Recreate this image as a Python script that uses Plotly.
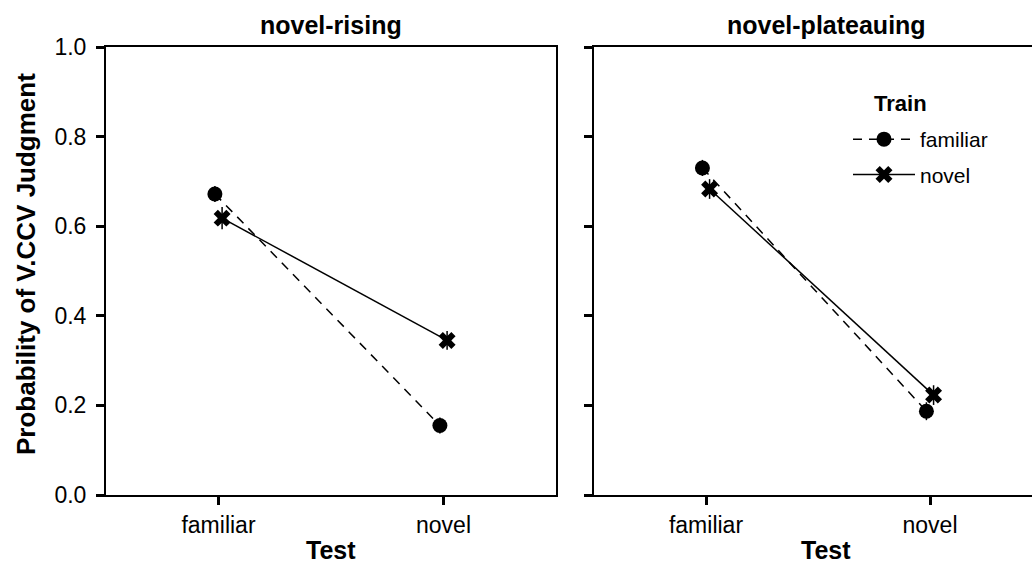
import plotly.graph_objects as go

# ---- data ----
panels = ["novel-rising", "novel-plateauing"]
test_levels = ["familiar", "novel"]
train_levels = ["familiar", "novel"]

rising_familiar = [0.672, 0.155]
rising_novel = [0.618, 0.345]
plateau_familiar = [0.730, 0.187]
plateau_novel = [0.683, 0.223]

rising_familiar_err = [0.018, 0.018]
rising_novel_err = [0.025, 0.021]
plateau_familiar_err = [0.018, 0.020]
plateau_novel_err = [0.022, 0.022]

y_ticks = [0.0, 0.2, 0.4, 0.6, 0.8, 1.0]

# ---- layout constants (pixels) ----
W, H = 1032, 570
ML, MR, MT, MB = 106, 0, 47, 75
PW = W - ML - MR
L1, R1 = 106, 556
L2, R2 = 594, 1032
unit = 224.0  # px per category

FONT = "Liberation Sans, Arial, sans-serif"
dodge = 0.016

styles = {
    "familiar": dict(dash="9px,7px", symbol="circle", size=15),
    "novel": dict(dash="solid", symbol="x", size=15),
}

series = [
    ("x", "y", rising_familiar, rising_familiar_err, "familiar", True),
    ("x", "y", rising_novel, rising_novel_err, "novel", True),
    ("x2", "y2", plateau_familiar, plateau_familiar_err, "familiar", False),
    ("x2", "y2", plateau_novel, plateau_novel_err, "novel", False),
]

fig = go.Figure()
for xa, ya, vals, errs, train, showleg in series:
    st = styles[train]
    off = -dodge if train == "familiar" else dodge
    xs = [i + off for i in range(len(test_levels))]
    fig.add_trace(go.Scatter(
        x=xs, y=vals, xaxis=xa, yaxis=ya,
        mode="lines+markers",
        name=train, legendgroup=train, showlegend=showleg,
        line=dict(color="black", width=1.5, dash=st["dash"]),
        marker=dict(symbol=st["symbol"], size=st["size"], color="black",
                    line=dict(width=0)),
        error_y=dict(type="data", array=errs, visible=True,
                     color="black", thickness=1.5, width=0),
    ))

def px2paper(px):
    return (px - ML) / PW

def py2paper(py):
    return (495 - py) / 448

axis_common = dict(showgrid=False, zeroline=False, showline=True,
                   linecolor="black", linewidth=2, ticks="outside",
                   ticklen=8, tickwidth=3, tickcolor="black",
                   tickfont=dict(family=FONT, size=23, color="black"))

fig.update_layout(
    width=W, height=H,
    margin=dict(l=ML, r=MR, t=MT, b=MB, pad=0),
    plot_bgcolor="white", paper_bgcolor="white",
    font=dict(family=FONT, color="black"),
    xaxis=dict(domain=[px2paper(L1), px2paper(R1)], range=[-0.5, 1.5],
               tickvals=[0, 1], ticktext=test_levels, mirror=True,
               anchor="y", **axis_common),
    yaxis=dict(domain=[0, 1], range=[0, 1], tickvals=y_ticks,
               tickformat=".1f", mirror=True, anchor="x",
               ticklabelstandoff=5, **axis_common),
    xaxis2=dict(domain=[px2paper(L2), 1],
                range=[-0.5, -0.5 + (R2 - L2) / unit],
                tickvals=[0, 1], ticktext=test_levels, mirror=True,
                anchor="y2", **axis_common),
    yaxis2=dict(domain=[0, 1], range=[0, 1], tickvals=y_ticks,
                showticklabels=False, mirror=False, anchor="x2",
                **axis_common),
    legend=dict(
        x=px2paper(848), y=py2paper(119), xanchor="left", yanchor="top",
        bgcolor="rgba(0,0,0,0)",
        font=dict(family=FONT, size=21, color="black"),
        tracegroupgap=5, itemwidth=62,
    ),
)

TITLE_SIZE = 25
annos = [
    dict(text="<b>novel-rising</b>", x=px2paper(331), y=py2paper(25)),
    dict(text="<b>novel-plateauing</b>", x=px2paper(826), y=py2paper(25)),
    dict(text="<b>Test</b>", x=px2paper(331), y=py2paper(550)),
    dict(text="<b>Test</b>", x=px2paper(826), y=py2paper(550)),
]
for a in annos:
    fig.add_annotation(xref="paper", yref="paper", showarrow=False,
                       xanchor="center", yanchor="middle",
                       font=dict(family=FONT, size=TITLE_SIZE, color="black"), **a)
fig.add_annotation(xref="paper", yref="paper", showarrow=False,
                   text="<b>Train</b>", x=px2paper(872), y=py2paper(103),
                   xanchor="left", yanchor="middle",
                   font=dict(family=FONT, size=22, color="black"))
fig.add_annotation(xref="paper", yref="paper", showarrow=False,
                   text="<b>Probability of V.CCV Judgment</b>",
                   x=px2paper(26), y=py2paper(264), textangle=-90,
                   xanchor="center", yanchor="middle",
                   font=dict(family=FONT, size=26, color="black"))

fig.write_html("out.html")
